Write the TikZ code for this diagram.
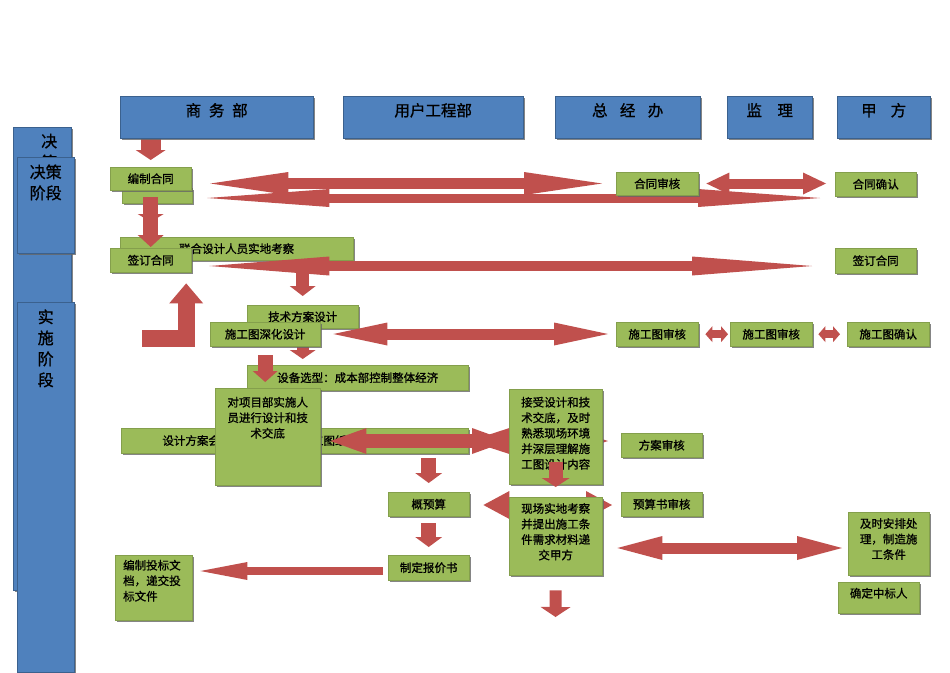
\documentclass[tikz,border=0pt]{standalone}
\usepackage{fontspec}
\setmainfont{Noto Sans CJK SC}[FakeBold=1]
\usetikzlibrary{arrows.meta,shadows,calc}
\definecolor{hdrblue}{RGB}{79,129,189}
\definecolor{boxgreen}{RGB}{155,187,89}
\definecolor{arrowred}{RGB}{192,80,77}
\pgfdeclarelayer{back}
\pgfdeclarelayer{arrows}
\pgfsetlayers{back,arrows,main}

\begin{document}
\begin{tikzpicture}[x=1pt, y=-1pt,
    base/.style={rectangle, anchor=north west, inner sep=0pt,
        drop shadow={shadow xshift=1.6pt, shadow yshift=-1.6pt, fill=black!60, opacity=0.8}},
    stage/.style={base, fill=hdrblue, draw=hdrblue!75!black, align=center, inner ysep=3pt,
        font=\fontsize{16}{21}\selectfont},
    header/.style={base, fill=hdrblue, draw=hdrblue!75!black, minimum height=42pt,
        inner ysep=4pt, text height=16pt, text depth=18pt, font=\fontsize{15.5}{18}\selectfont},
    task/.style={base, fill=boxgreen, draw=boxgreen!85!black, font=\fontsize{11.5}{15.5}\selectfont},
    tallbox/.style={task, align=center, inner ysep=3pt},
    dblarrow/.style n args={3}{arrowred, line width=#1,
        arrows={Triangle[line width=0pt,length=#2,width=#3]-Triangle[line width=0pt,length=#2,width=#3]}},
    onearrow/.style n args={3}{arrowred, line width=#1,
        arrows={-Triangle[line width=0pt,length=#2,width=#3]}}
]
\useasboundingbox (0,0) rectangle (950,672);

% Row levels of the long arrows
\coordinate (rA) at (0,183.5);
\coordinate (rB) at (0,198);
\coordinate (rC) at (0,266);
\coordinate (rD) at (0,334);
\coordinate (rE) at (0,441);
\coordinate (rG) at (0,505);
\coordinate (rH) at (0,548);
\coordinate (rI) at (0,571);
\coordinate (lfoot) at (142,338.5);
\coordinate (inspend) at (555.5,617);

% Stage column
\node[stage, text width=58pt, text height=17pt, text depth=440pt] (stagebg) at (13,127) {\hspace*{14pt}决\\\hspace*{14pt}策};
\node[stage, text width=57pt, text height=17.8pt, text depth=72.2pt] (stagedec) at (17,157) {决策\\阶段};
\node[stage, text width=57pt, text height=17.8pt, text depth=346.2pt] (stageimp) at (17,302) {实\\施\\阶\\段};

% Department headers
\node[header, minimum width=193pt] (hdrbiz) at (120,96) {商\hspace{0.5em}务\hspace{0.5em}部};
\node[header, minimum width=180pt] (hdrusr) at (343,96) {用户工程部};
\node[header, minimum width=145pt] (hdrgm) at (555,96) {总\hspace{0.8em}经\hspace{0.8em}办};
\node[header, minimum width=85pt] (hdrsup) at (727,96) {监\hspace{1em}理};
\node[header, minimum width=93pt] (hdrown) at (837,96) {甲\hspace{0.9em}方};

% Boxes lying under the arrows
\begin{pgfonlayer}{back}
\node[task, minimum width=70pt, minimum height=15pt] (reviewbg) at (122,188) {};
\node[task, minimum width=233pt, minimum height=23pt] (sitevisit) at (120,237) {联合设计人员实地考察};
\node[task, minimum width=111pt, minimum height=23pt] (techplan) at (247,305) {技术方案设计};
\node[task, minimum width=221pt, minimum height=25pt] (equipsel) at (247,365) {设备选型：成本部控制整体经济};
\node[task, minimum width=347pt, minimum height=25pt] (designmtg) at (121,428) {设计方案会审，并配合审查施工图纸，进行技术交底};
\end{pgfonlayer}

% Business column
\node[task, minimum width=81pt, minimum height=23pt] (draftct) at (110,167) {编制合同};
\node[task, minimum width=81pt, minimum height=24pt] (signct) at (110,248) {签订合同};
\node[tallbox, align=left, text width=61pt, inner xsep=8pt, text height=11.4pt, text depth=47.6pt] (bidfile) at (115,555) {编制投标文\\档，递交投\\标文件};

% Project department column
\node[task, minimum width=110pt, minimum height=24pt] (detaildsg) at (210,322) {施工图深化设计};
\node[tallbox, text width=105pt, text height=15.4pt, text depth=75.6pt] (briefing) at (215,388) {对项目部实施人\\员进行设计和技\\术交底};
\node[task, minimum width=81pt, minimum height=24pt] (estimate) at (388,492) {概预算};
\node[task, minimum width=81pt, minimum height=25pt] (quote) at (388,555) {制定报价书};
\node[tallbox, text width=93pt, text height=14.4pt, text depth=74.6pt] (acceptdsg) at (509,389) {接受设计和技\\术交底，及时\\熟悉现场环境\\并深层理解施\\工图设计内容};
\node[tallbox, text width=93pt, text height=12.7pt, text depth=59.3pt] (siteinsp) at (509,497) {现场实地考察\\并提出施工条\\件需求材料递\\交甲方};

% General office column
\node[task, minimum width=82pt, minimum height=23pt] (ctreview) at (616,172) {合同审核};
\node[task, minimum width=82pt, minimum height=24pt] (dwgrev1) at (616,322) {施工图审核};
\node[task, minimum width=81pt, minimum height=24pt] (planrev) at (621,433) {方案审核};
\node[task, minimum width=81pt, minimum height=24pt] (budgetrev) at (621,492) {预算书审核};

% Supervisor and owner columns
\node[task, minimum width=82pt, minimum height=24pt] (dwgrev2) at (730,322) {施工图审核};
\node[task, minimum width=81pt, minimum height=24pt] (ctconfirm) at (835,172) {合同确认};
\node[task, minimum width=81pt, minimum height=25pt] (signown) at (835,248) {签订合同};
\node[task, minimum width=82pt, minimum height=24pt] (dwgconf) at (847,322) {施工图确认};
\node[tallbox, text width=81pt, text height=12.7pt, text depth=44.3pt] (arrange) at (848,512) {及时安排处\\理，制造施\\工条件};
\node[tallbox, text width=81pt, text height=12.4pt, text depth=12.6pt] (winner) at (838,582) {确定中标人};

\begin{pgfonlayer}{arrows}
% Decision stage arrows
\draw[onearrow={20pt}{10pt}{30pt}, shorten >=7pt] (draftct.north |- hdrbiz.south) -- (draftct.north);
\draw[onearrow={15pt}{8pt}{26pt}, shorten <=7pt, shorten >=26pt] (draftct.south) -- (signct.north);
\draw[onearrow={15pt}{12pt}{26pt}, shorten <=20pt, shorten >=1pt] (draftct.south) -- (signct.north);
\draw[dblarrow={9pt}{122pt}{18pt}, shorten <=15pt, shorten >=15pt] (reviewbg.east |- rB) -- (ctconfirm.west |- rB);
\draw[dblarrow={11pt}{78pt}{23pt}, shorten <=19pt, shorten >=14pt] (draftct.east |- rA) -- (ctreview.west |- rA);
\draw[dblarrow={10pt}{23pt}{22pt}, shorten <=8pt, shorten >=9pt] (ctreview.east |- rA) -- (ctconfirm.west |- rA);
\draw[dblarrow={10pt}{120pt}{19pt}, shorten <=18pt, shorten >=23pt] (signct.east |- rC) -- (signown.west |- rC);
\draw[onearrow={13pt}{10pt}{26pt}, shorten >=9pt] (techplan.north |- signct.south) -- (techplan.north);
\draw[onearrow={17pt}{20pt}{34pt}, line join=miter, shorten >=11pt] (lfoot) -| ([xshift=35.5pt]signct.south);

% Implementation stage arrows
\draw[dblarrow={11pt}{54pt}{23pt}, shorten <=13pt, shorten >=8pt] (detaildsg.east |- rD) -- (dwgrev1.west |- rD);
\draw[dblarrow={8pt}{7pt}{16pt}, shorten <=7pt, shorten >=2pt] (dwgrev1.east) -- (dwgrev2.west);
\draw[dblarrow={8pt}{7pt}{16pt}, shorten <=6pt, shorten >=7pt] (dwgrev2.east) -- (dwgconf.west);
\draw[onearrow={12pt}{9pt}{26pt}, shorten >=6pt] (detaildsg.south -| techplan.north) -- (equipsel.north -| techplan.north);
\draw[onearrow={15pt}{11pt}{25pt}, shorten <=9pt, shorten >=6pt] (detaildsg.south) -- (detaildsg.south |- briefing.north);
\draw[dblarrow={14pt}{40pt}{26pt}, shorten <=1pt, shorten >=13pt] (designmtg.east |- rE) -- (planrev.west |- rE);
\draw[dblarrow={14pt}{36pt}{26pt}, shorten <=10pt, shorten >=1pt] (briefing.east |- rE) -- (acceptdsg.west |- rE);
\draw[onearrow={15pt}{10pt}{27pt}, shorten <=5pt, shorten >=9pt] (estimate.north |- designmtg.south) -- (estimate.north);
\draw[dblarrow={12pt}{26pt}{28pt}, shorten <=14pt, shorten >=9pt] (estimate.east |- rG) -- (budgetrev.west |- rG);
\draw[onearrow={15pt}{10pt}{27pt}, shorten <=7pt, shorten >=8pt] (estimate.south) -- (quote.north);
\draw[onearrow={8pt}{47pt}{18pt}, shorten <=5pt, shorten >=8pt] (quote.west |- rI) -- (bidfile.east |- rI);
\draw[dblarrow={11pt}{45pt}{24pt}, shorten <=15pt, shorten >=6pt] (siteinsp.east |- rH) -- (arrange.west |- rH);
\draw[onearrow={12pt}{10pt}{30pt}, shorten <=15pt] (siteinsp.south) -- (inspend);
\end{pgfonlayer}

% Arrow over the briefing box
\draw[onearrow={14pt}{9pt}{28pt}, shorten >=10pt] ($(acceptdsg.south)+(0,-22)$) -- (siteinsp.north);

\end{tikzpicture}
\end{document}
